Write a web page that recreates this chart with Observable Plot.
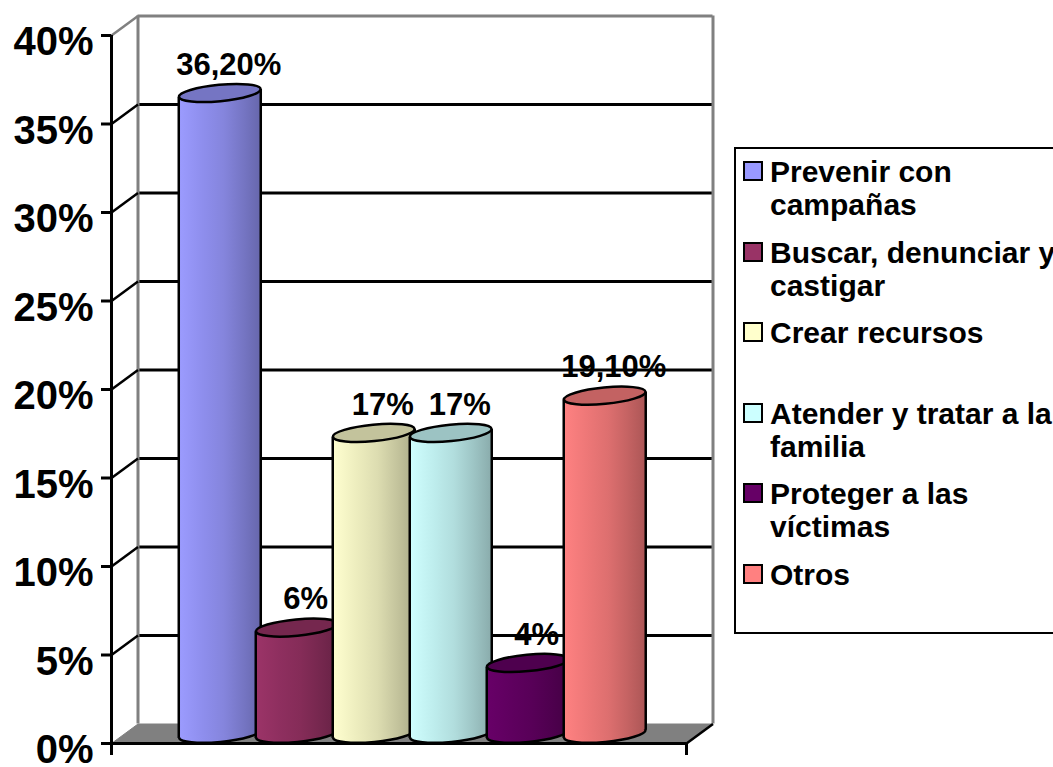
<!DOCTYPE html>
<html>
<head>
<meta charset="utf-8">
<script src="https://cdn.jsdelivr.net/npm/d3@7"></script>
<script src="https://cdn.jsdelivr.net/npm/@observablehq/plot@0.6"></script>
<style>
  html, body { margin: 0; padding: 0; background: #fff; }
  body { width: 1053px; height: 767px; overflow: hidden; position: relative;
         font-family: "Liberation Sans", Arial, sans-serif; }
  #chart { position: absolute; left: 0; top: 0; }
  #legend { position: absolute; left: 734px; top: 147px; width: 340px; height: 487px;
            box-sizing: border-box; border: 2px solid #000; background: #fff;
            padding: 6px 0 0 7px; }
  .entry { display: flex; align-items: flex-start; height: 80.6px; }
  .sw { width: 16px; height: 16px; border: 2px solid #000; margin-top: 6px; flex: none; }
  .lab { margin-left: 7px; width: 300px; font-size: 30px; font-weight: bold;
         line-height: 33px; color: #000; }
</style>
</head>
<body>
<div id="chart"></div>
<div id="legend"></div>
<script>
// ---- data ----
const categories = ["Prevenir con campañas", "Buscar, denunciar y castigar", "Crear recursos",
                    "Atender y tratar a la familia", "Proteger a las víctimas", "Otros"];
const values = [0.362, 0.06, 0.17, 0.17, 0.04, 0.191];
const valueLabels = ["36,20%", "6%", "17%", "17%", "4%", "19,10%"];
const colors = ["#9999FF", "#993366", "#FFFFCC", "#CCFFFF", "#660066", "#FF8080"];
const yTicks = [0, 0.05, 0.10, 0.15, 0.20, 0.25, 0.30, 0.35, 0.40];
const yTickLabels = ["0%", "5%", "10%", "15%", "20%", "25%", "30%", "35%", "40%"];

// ---- layout ----
const W = 730, H = 767;
const mL = 111, mR = W - 686, mT = 35, mB = H - 743;
const gap = 0.734;
const xDomain = [-0.5 - gap, categories.length - 0.5 + gap];
const yDomain = [0, 0.4];
const kx = (W - mL - mR) / (xDomain[1] - xDomain[0]);
const ky = (H - mT - mB) / (yDomain[1] - yDomain[0]);
const depth = [26.5, 19.5];               // px offset of back wall
const mid = [depth[0] / 2, depth[1] / 2]; // px offset of bars
const DX = depth[0] / kx, DY = depth[1] / ky;
const halfW = 41;                          // px half width of a cylinder
const hw = halfW / kx;
const tiltDeg = 5.5;
const T = halfW * Math.sin(tiltDeg * Math.PI / 180) / ky;
const GRID = "#000", WALL = "#808080";

const data = categories.map((c, i) => ({i, cat: c, v: values[i], label: valueLabels[i]}));

// ellipse symbol (tilted)
const ellipse = {
  draw(ctx, size) {
    const rx = Math.sqrt(size / Math.PI), ry = rx * 0.2, th = -tiltDeg * Math.PI / 180;
    const k = 0.5523, c = Math.cos(th), s = Math.sin(th);
    const P = (x, y) => [x * c - y * s, x * s + y * c];
    ctx.moveTo(...P(rx, 0));
    ctx.bezierCurveTo(...P(rx, k * ry), ...P(k * rx, ry), ...P(0, ry));
    ctx.bezierCurveTo(...P(-k * rx, ry), ...P(-rx, k * ry), ...P(-rx, 0));
    ctx.bezierCurveTo(...P(-rx, -k * ry), ...P(-k * rx, -ry), ...P(0, -ry));
    ctx.bezierCurveTo(...P(k * rx, -ry), ...P(rx, -k * ry), ...P(rx, 0));
    ctx.closePath();
  }
};

const marks = [];
// floor
const floor = [
  {x: xDomain[0], y: 0}, {x: xDomain[0] + DX, y: DY},
  {x: xDomain[1] + DX, y: DY}, {x: xDomain[1], y: 0}
];
marks.push(Plot.line(floor, {x: "x", y: "y", fill: WALL, stroke: WALL, strokeWidth: 1}));
// back wall gridlines
marks.push(Plot.ruleY(yTicks.slice(1, -1), {x1: xDomain[0], x2: xDomain[1], dx: depth[0], dy: -depth[1], stroke: GRID, strokeWidth: 3}));
// back wall edges
marks.push(Plot.ruleY([yDomain[1]], {x1: xDomain[0], x2: xDomain[1], dx: depth[0], dy: -depth[1], stroke: WALL, strokeWidth: 3}));
marks.push(Plot.ruleX([xDomain[0], xDomain[1]], {y1: yDomain[0], y2: yDomain[1], dx: depth[0], dy: -depth[1], stroke: WALL, strokeWidth: 3}));
// side wall diagonals
marks.push(Plot.link(yTicks.slice(1, -1), {x1: xDomain[0], x2: xDomain[0] + DX, y1: d => d, y2: d => d + DY, stroke: GRID, strokeWidth: 2.5}));
marks.push(Plot.link([yDomain[1]], {x1: xDomain[0], x2: xDomain[0] + DX, y1: d => d, y2: d => d + DY, stroke: WALL, strokeWidth: 2.5}));
// floor right edge
marks.push(Plot.link([0], {x1: xDomain[1], x2: xDomain[1] + DX, y1: d => d, y2: d => d + DY, stroke: GRID, strokeWidth: 2.5}));

// cylinders
data.forEach((d, i) => {
  const bar = [d];
  const grad = `url(#grad${i})`;
  const top = d3.color(colors[i]).darker(0.75).formatHex();
  const body = [{x: d.i - hw, lo: -T, hi: d.v - T}, {x: d.i + hw, lo: T, hi: d.v + T}];
  marks.push(Plot.dot(bar, {x: "i", y: () => 0, r: halfW, symbol: ellipse, fill: grad, stroke: "#000", strokeWidth: 2.5, dx: mid[0], dy: -mid[1]}));
  marks.push(Plot.areaY(body, {x: "x", y1: "lo", y2: "hi", fill: grad, dx: mid[0], dy: -mid[1]}));
  marks.push(Plot.link(body, {x1: "x", x2: "x", y1: "lo", y2: "hi", stroke: "#000", strokeWidth: 2.5, dx: mid[0], dy: -mid[1]}));
  marks.push(Plot.dot(bar, {x: "i", y: "v", r: halfW, symbol: ellipse, fill: top, stroke: "#000", strokeWidth: 2.5, dx: mid[0], dy: -mid[1]}));
});

// front axes
marks.push(Plot.ruleY([0], {x1: xDomain[0], x2: xDomain[1], stroke: "#000", strokeWidth: 3}));
marks.push(Plot.ruleX([xDomain[0]], {y1: -12 / ky, y2: yDomain[1], stroke: "#000", strokeWidth: 3}));
marks.push(Plot.ruleX([xDomain[1]], {y1: -12 / ky, y2: 0, stroke: "#000", strokeWidth: 3}));
marks.push(Plot.ruleY(yTicks, {x1: xDomain[0] - 10 / kx, x2: xDomain[0], stroke: "#000", strokeWidth: 3}));
marks.push(Plot.axisY({ticks: yTicks, tickSize: 0, tickPadding: 18, dy: 7,
  tickFormat: t => yTickLabels[yTicks.indexOf(t)], fontSize: 40, fontWeight: "bold", fill: "#000"}));

// data labels
marks.push(Plot.text(data, {x: "i", y: "v", text: "label", dx: mid[0] + 9, dy: -28, lineAnchor: "bottom",
  fontSize: 31, fontWeight: "bold", fill: "#000"}));

const chart = Plot.plot({
  width: W, height: H,
  marginLeft: mL, marginRight: mR, marginTop: mT, marginBottom: mB,
  x: {domain: xDomain, axis: null},
  y: {domain: yDomain},
  style: {fontFamily: "'Liberation Sans', Arial, sans-serif", background: "#fff", overflow: "visible"},
  marks
});

// gradients for the cylinders
const defs = d3.select(chart).insert("defs", ":first-child");
colors.forEach((c, i) => {
  const base = d3.color(c);
  const g = defs.append("linearGradient").attr("id", "grad" + i)
    .attr("x1", 0).attr("x2", 1).attr("y1", 0).attr("y2", 0);
  const stops = [
    [0, base.brighter(0.05)], [0.3, base.darker(0.2)], [0.55, base.darker(0.4)],
    [0.8, base.darker(0.75)], [1, base.darker(1.1)]
  ];
  stops.forEach(([o, col]) => g.append("stop").attr("offset", o).attr("stop-color", col.formatHex()));
});

document.getElementById("chart").appendChild(chart);

// legend
const legend = d3.select("#legend");
categories.forEach((c, i) => {
  const e = legend.append("div").attr("class", "entry");
  e.append("div").attr("class", "sw").style("background", colors[i]);
  e.append("div").attr("class", "lab").text(c);
});
</script>
</body>
</html>
